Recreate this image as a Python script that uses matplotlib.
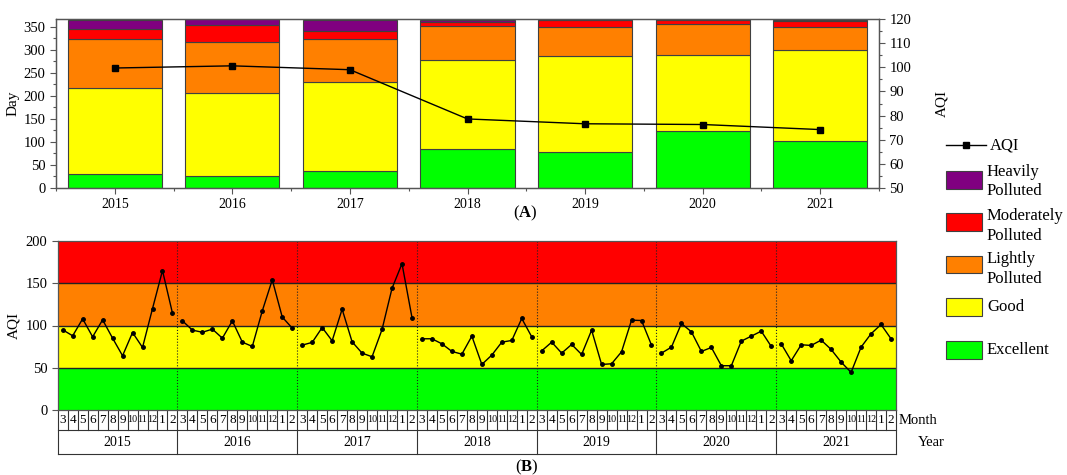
import matplotlib
matplotlib.use('Agg')
import matplotlib.pyplot as plt
import numpy as np
from matplotlib.patches import Rectangle
from matplotlib.lines import Line2D
from matplotlib.ticker import MultipleLocator

plt.rcParams['font.family'] = ['Liberation Serif', 'DejaVu Serif']
plt.rcParams['mathtext.fontset'] = 'custom'
plt.rcParams['mathtext.rm'] = 'Liberation Serif'
plt.rcParams['mathtext.bf'] = 'Liberation Serif:bold'

# ---------------- data ----------------
years = ['2015', '2016', '2017', '2018', '2019', '2020', '2021']
excellent = [30, 27, 36, 85, 78, 124, 103]
good = [187, 180, 195, 193, 208, 165, 196]
lightly = [107, 110, 93, 74, 63, 67, 50]
moderately = [21, 38, 17, 8, 16, 8, 14]
heavily = [20, 11, 24, 5, 0, 2, 2]
annual_aqi = [99.7, 100.6, 99.0, 78.6, 76.6, 76.3, 74.2]

month_labels = ['3', '4', '5', '6', '7', '8', '9', '10', '11', '12', '1', '2']
aqi_2015 = [94.9, 87.8, 107.9, 86.6, 106.7, 85.0, 64.2, 91.7, 74.0, 120.0, 165.0, 114.6]
aqi_2016 = [105.5, 94.5, 92.0, 95.7, 85.0, 105.5, 80.3, 75.2, 117.3, 154.0, 110.0, 96.9]
aqi_2017 = [76.8, 80.0, 97.6, 81.9, 119.3, 80.7, 67.3, 63.0, 95.3, 144.0, 173.2, 109.4]
aqi_2018 = [84.3, 84.3, 78.3, 69.3, 66.1, 87.4, 53.9, 65.0, 80.3, 82.3, 108.3, 86.6]
aqi_2019 = [70.0, 80.3, 67.3, 77.6, 65.7, 94.5, 53.9, 54.7, 68.9, 106.3, 105.9, 76.8]
aqi_2020 = [67.3, 74.4, 102.4, 92.5, 69.3, 74.0, 52.4, 52.4, 81.5, 87.4, 93.3, 75.2]
aqi_2021 = [78.3, 58.3, 77.2, 76.4, 82.7, 71.7, 56.7, 44.5, 74.4, 90.2, 101.2, 84.3]

categories = ['Excellent', 'Good', 'Lightly\nPolluted', 'Moderately\nPolluted', 'Heavily\nPolluted']
colors = ['#00FF00', '#FFFF00', '#FF8000', '#FF0000', '#800080']

W, H = 1067, 475
fig = plt.figure(figsize=(W / 100, H / 100), dpi=100)

def fx(px):
    return px / W

def fy(py):
    return 1 - py / H

spine_col = '#555555'
edge_col = '#404040'

# ---------------- panel A ----------------
axA = fig.add_axes([fx(56), fy(188), fx(879 - 56), (188 - 19) / H])
x = np.arange(len(years))
stack = [excellent, good, lightly, moderately, heavily]
bottom = np.zeros(len(years))
for vals, col in zip(stack, colors):
    v = np.array(vals, dtype=float)
    axA.bar(x, v, bottom=bottom, width=0.8, color=col, edgecolor=edge_col, linewidth=0.8, zorder=2)
    bottom += v
axA.set_xlim(-0.5, 6.5)
axA.set_ylim(0, 367)
axA.set_xticks(x)
axA.set_xticklabels(years, fontsize=10)
axA.set_xticks(np.arange(-0.5, 7.0, 1.0), minor=True)
axA.yaxis.set_major_locator(MultipleLocator(50))
axA.yaxis.set_minor_locator(MultipleLocator(25))
axA.tick_params(axis='both', which='major', direction='out', length=4, width=0.8, color=spine_col, labelsize=10.5)
axA.tick_params(axis='x', which='major', labelsize=10)
axA.tick_params(axis='both', which='minor', direction='out', length=2.5, width=0.8, color=spine_col)
axA.set_ylabel('Day', fontsize=11)
axA.yaxis.set_label_coords(-36 / 823, 0.5)
for s in axA.spines.values():
    s.set_color(spine_col)
    s.set_linewidth(0.9)

axA2 = axA.twinx()
axA2.plot(x, annual_aqi, color='black', linewidth=1.0, marker='s', markersize=4.5, zorder=5)
axA2.set_ylim(50, 120)
axA2.yaxis.set_major_locator(MultipleLocator(10))
axA2.yaxis.set_minor_locator(MultipleLocator(5))
axA2.tick_params(axis='y', which='major', direction='out', length=4, width=0.8, color=spine_col, labelsize=10.5)
axA2.tick_params(axis='y', which='minor', direction='out', length=2.5, width=0.8, color=spine_col)
axA2.set_ylabel('AQI', fontsize=11, rotation=90)
axA2.yaxis.set_label_coords(1 + 56 / 823, 0.5)
for s in axA2.spines.values():
    s.set_color(spine_col)
    s.set_linewidth(0.9)

fig.text(fx(525), fy(213), r'($\mathbf{A}$)', ha='center', va='center', fontsize=12)

# ---------------- panel B ----------------
left_b, right_b, top_b, bot_b = 57.7, 896, 241, 410
axB = fig.add_axes([fx(left_b), fy(bot_b), fx(right_b - left_b), (bot_b - top_b) / H])
monthly = [aqi_2015, aqi_2016, aqi_2017, aqi_2018, aqi_2019, aqi_2020, aqi_2021]
n_m = len(month_labels)
for lo, hi, col in [(0, 50, colors[0]), (50, 100, colors[1]), (100, 150, colors[2]), (150, 200, colors[3])]:
    axB.axhspan(lo, hi, color=col, zorder=0, linewidth=0)
for yv in [50, 100, 150]:
    axB.axhline(yv, color='#222222', linewidth=1.0, zorder=1)
for i in range(1, len(years)):
    axB.axvline(i * n_m - 0.5, color='#222222', linestyle=':', linewidth=0.8, zorder=1)
for i, vals in enumerate(monthly):
    xm = np.arange(n_m) + i * n_m
    axB.plot(xm, vals, color='black', linewidth=1.0, marker='o', markersize=2.5, zorder=3)
axB.set_xlim(-0.5, len(years) * n_m - 0.5)
axB.set_ylim(0, 200)
axB.yaxis.set_major_locator(MultipleLocator(50))
axB.set_xticks([])
axB.tick_params(axis='y', direction='out', length=4, width=0.8, color=spine_col, labelsize=10.5)
axB.set_ylabel('AQI', fontsize=11)
axB.yaxis.set_label_coords(-(left_b - 20) / (right_b - left_b), 0.5)
for s in axB.spines.values():
    s.set_color(spine_col)
    s.set_linewidth(0.9)

# month / year table below the axis
tr = axB.get_xaxis_transform()
hax = bot_b - top_b
r1 = -(430 - bot_b) / hax
r2 = -(454 - bot_b) / hax
tab_col = '#333333'
total = len(years) * n_m
axB.add_line(Line2D([-0.5, total - 0.5], [r1, r1], transform=tr, color=tab_col, lw=0.8, clip_on=False))
axB.add_line(Line2D([-0.5, total - 0.5], [r2, r2], transform=tr, color=tab_col, lw=0.8, clip_on=False))
for k in range(total + 1):
    xb = k - 0.5
    ylow = r2 if k % n_m == 0 else r1
    axB.add_line(Line2D([xb, xb], [0, ylow], transform=tr, color=tab_col, lw=0.8, clip_on=False))
for i, yr in enumerate(years):
    for j, m in enumerate(month_labels):
        fs = 9.5 if len(m) == 1 else 7.2
        axB.text(i * n_m + j, r1 / 2, m, transform=tr, ha='center', va='center', fontsize=fs)
    axB.text(i * n_m + (n_m - 1) / 2, (r1 + r2) / 2, yr, transform=tr, ha='center', va='center', fontsize=10)
fig.text(fx(899), fy(420), 'Month', ha='left', va='center', fontsize=10.5)
fig.text(fx(931), fy(442), 'Year', ha='center', va='center', fontsize=10.5)
fig.text(fx(527), fy(467), r'($\mathbf{B}$)', ha='center', va='center', fontsize=12)

# ---------------- legend (manual) ----------------
fig.add_artist(Line2D([fx(946), fx(986)], [fy(145), fy(145)], color='black', lw=1.0))
fig.add_artist(Line2D([fx(966)], [fy(145)], color='black', marker='s', markersize=4, lw=0))
fig.text(fx(990), fy(145), 'AQI', ha='left', va='center', fontsize=12)
swatches = [
    (colors[4], 171, 189, ['Heavily', 'Polluted'], [172, 191]),
    (colors[3], 213, 231, ['Moderately', 'Polluted'], [216, 236]),
    (colors[2], 256, 273, ['Lightly', 'Polluted'], [259, 279]),
    (colors[1], 298, 316, ['Good'], [307]),
    (colors[0], 341, 359, ['Excellent'], [350]),
]
for col, y0, y1, lines, ys in swatches:
    fig.add_artist(Rectangle((fx(946), fy(y1)), fx(982 - 946), (y1 - y0) / H,
                             facecolor=col, edgecolor=edge_col, linewidth=0.8, transform=fig.transFigure))
    for t, yy in zip(lines, ys):
        fig.text(fx(987), fy(yy), t, ha='left', va='center', fontsize=12)

fig.savefig('out.png', dpi=100)
